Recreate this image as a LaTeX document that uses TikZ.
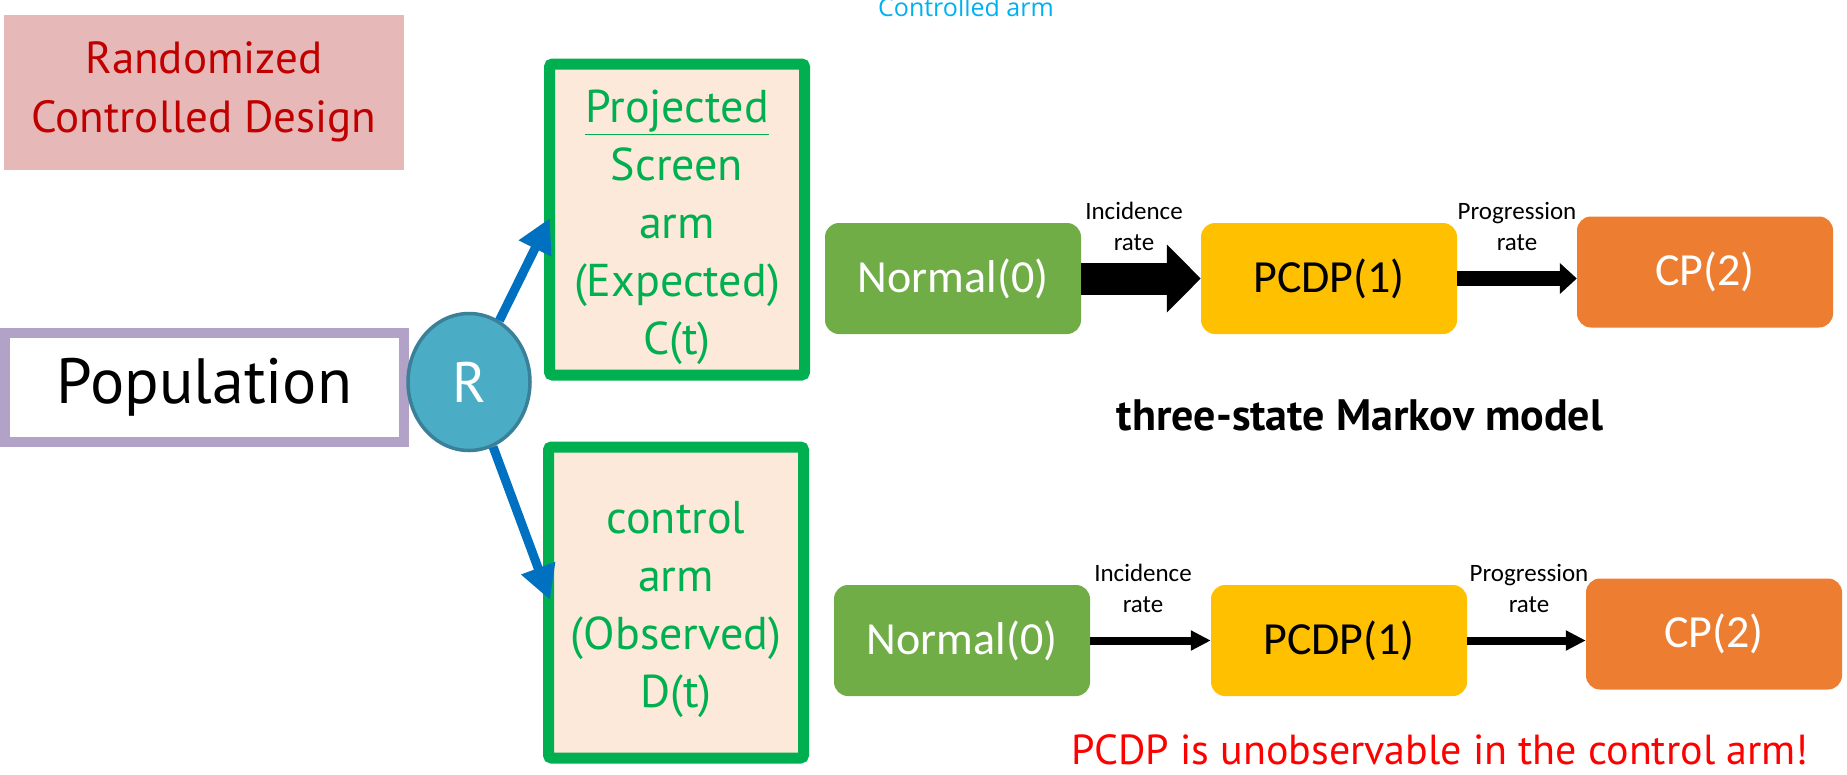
\documentclass[tikz,border=0pt]{standalone}
\usepackage{fontspec}
\setmainfont{PT Sans}
\newfontfamily\calib{Carlito}
\newfontfamily\segoe{Open Sans}
\usetikzlibrary{shapes.geometric,arrows.meta}

\definecolor{randfill}{HTML}{E6B9B8}
\definecolor{randred}{HTML}{C00000}
\definecolor{popline}{HTML}{B3A2C7}
\definecolor{rfill}{HTML}{4BACC6}
\definecolor{rline}{HTML}{3A8098}
\definecolor{armblue}{HTML}{0070C0}
\definecolor{armgreen}{HTML}{00B050}
\definecolor{armfill}{HTML}{FCE9DA}
\definecolor{normgreen}{HTML}{70AD47}
\definecolor{pcdpyel}{HTML}{FFC000}
\definecolor{cporange}{HTML}{ED7D31}
\definecolor{ctrlblue}{HTML}{00B0F0}
\definecolor{alertred}{HTML}{FF0000}

\begin{document}
\begin{tikzpicture}[x=1pt,y=-1pt]
\useasboundingbox (0,0) rectangle (1847,774);
%%%%%%%%%%%%%%%%%%%%%%%%%%%%%%%%%%%%%%%%%%%%%%%%%%%%%%%%
% STYLE
\tikzstyle{design}=[rectangle,fill=randfill,text=randred,align=center,inner sep=0,minimum width=400pt,minimum height=155pt,font=\fontsize{45}{59}\selectfont]
\tikzstyle{pop}=[rectangle,draw=popline,line width=10pt,fill=white,inner sep=0,minimum width=399pt,minimum height=109pt,font=\fontsize{64}{76}\selectfont]
\tikzstyle{rnd}=[ellipse,draw=rline,line width=3.5pt,fill=rfill,text=white,inner sep=0,minimum width=122pt,minimum height=137pt,font=\fontsize{57}{68}\selectfont]
\tikzstyle{arm}=[rectangle,draw=armgreen,line width=11pt,fill=armfill,rounded corners=3pt,inner sep=0,minimum width=255pt,minimum height=311pt]
\tikzstyle{armtxt}=[text=armgreen,align=center,font=\fontsize{46}{58}\selectfont]
\tikzstyle{state}=[rectangle,rounded corners=14pt,inner sep=0,minimum width=256pt,minimum height=111pt,font=\calib\fontsize{46}{54}\selectfont]
\tikzstyle{rate}=[align=center,font=\calib\fontsize{25}{31}\selectfont]
\tikzstyle{txt}=[anchor=base]
\tikzstyle{split}=[draw=armblue,line width=9pt,-{Triangle[length=34pt,width=34pt]}]
\tikzstyle{fat}=[line width=32pt,-{Triangle[length=34pt,width=66pt]}]
\tikzstyle{mid}=[line width=15pt,-{Triangle[length=17pt,width=30pt]}]
\tikzstyle{thin}=[line width=8pt,-{Triangle[length=20pt,width=19pt]}]

%%%%%%%%%%%%%%%%%%%%%%%%%%%%%%%%%%%%%%%%%%%%%%%%%%%%%%%%
% NODES
\node[design] (D) at (204,92) {Randomized\\Controlled Design};
\node[txt,text=ctrlblue,font=\segoe\fontsize{25}{30}\selectfont] (CA) at (966,16) {Controlled arm};

\node[pop] (P) at (204.5,387.5) {Population};
\node[rnd] (R) at (469,382) {R};

\node[arm] (S) at (677,219.5) {};
\node[armtxt] (St) at ([yshift=-8pt]S.center) {\underline{Projected}\\Screen\\arm\\(Expected)\\C(t)};
\node[arm] (C) at (676,602.5) {};
\node[armtxt] (Ct) at ([yshift=-7pt]C.center) {control\\arm\\(Observed)\\D(t)};
\coordinate (tS) at (550,218);
\coordinate (tC) at (550,600);

\node[state,fill=normgreen,text=white] (N0) at (953,278.5) {Normal(0)};
\node[state,fill=pcdpyel] (N1) at (1329,278.5) {PCDP(1)};
\node[state,fill=cporange,text=white] (N2) at (1705,272) {CP(2)};
\node[rate] (r0) at (1134,226) {Incidence\\rate};
\node[rate] (r1) at (1517,226) {Progression\\rate};
\node[txt,font=\bfseries\fontsize{44}{52}\selectfont] (T) at (1360,430) {three-state Markov model};

\node[state,fill=normgreen,text=white] (M0) at (962,640.5) {Normal(0)};
\node[state,fill=pcdpyel] (M1) at (1339,640.5) {PCDP(1)};
\node[state,fill=cporange,text=white] (M2) at (1714,634) {CP(2)};
\node[rate] (q0) at (1143,588) {Incidence\\rate};
\node[rate] (q1) at (1529,588) {Progression\\rate};
\node[txt,text=alertred,font=\fontsize{42}{50}\selectfont] (W) at (1440,764) {PCDP is unobservable in the control arm!};

%%%%%%%%%%%%%%%%%%%%%%%%%%%%%%%%%%%%%%%%%%%%%%%%%%%%%%%%
% LINKS
\draw[split] (R) -- (tS);
\draw[split] (R) -- (tC);

\draw[fat] (N0) -- (N1);
\draw[mid] (N1.east) -- (N1.east -| N2.west);

\draw[thin] (M0) -- (M1);
\draw[thin] (M1.east) -- (M1.east -| M2.west);

\end{tikzpicture}
\end{document}
